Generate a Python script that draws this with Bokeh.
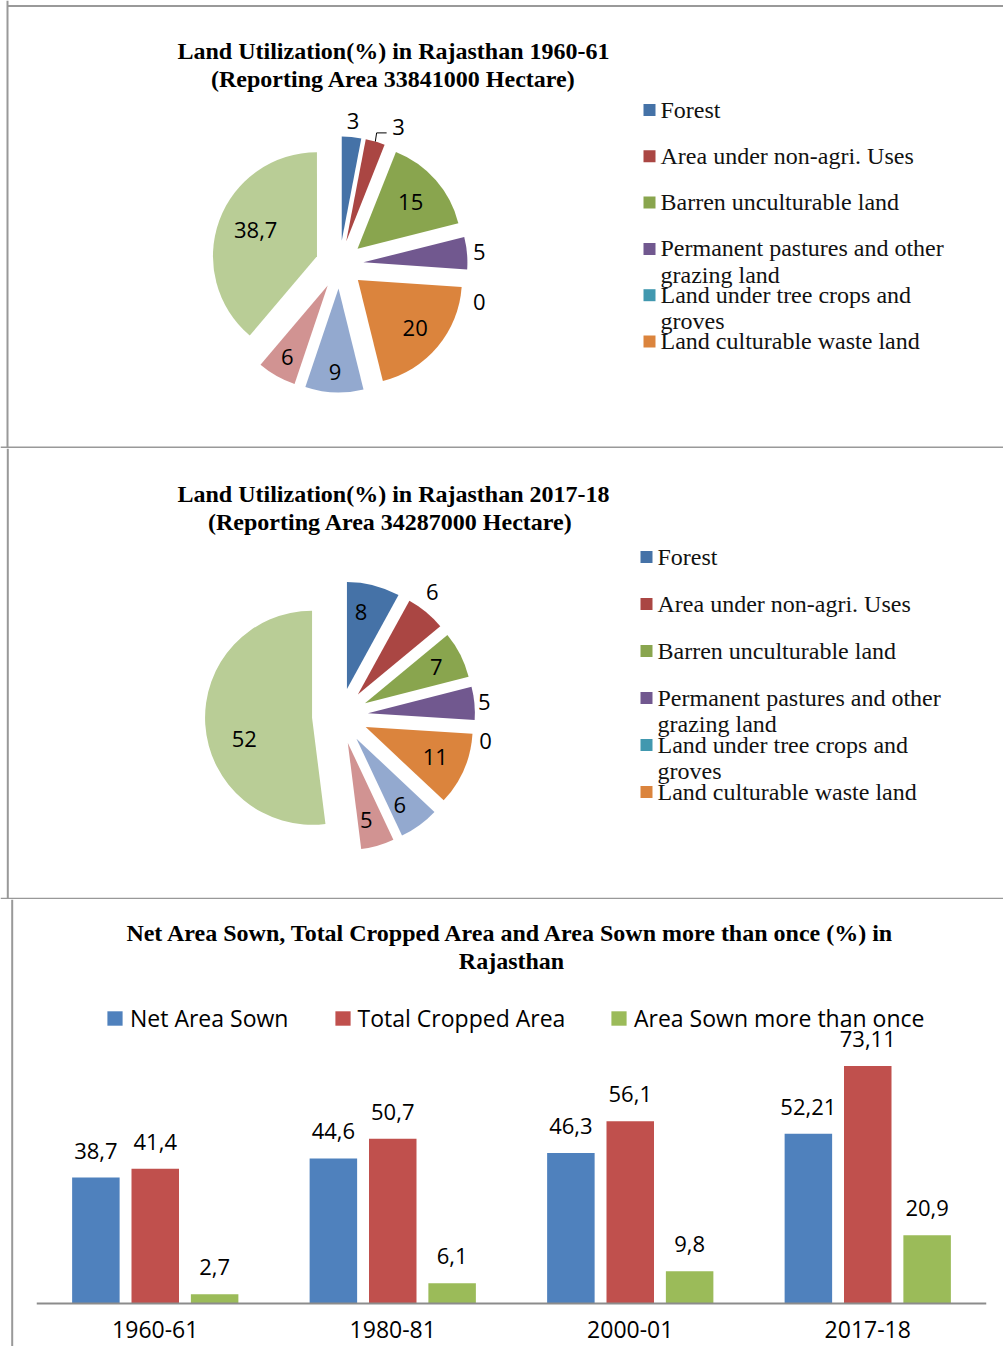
import textwrap
import numpy as np
from bokeh.plotting import figure
from bokeh.layouts import column, row
from bokeh.models import (ColumnDataSource, Range1d, FactorRange, CategoricalAxis,
                          Legend, LegendItem, LabelSet)
from bokeh.transform import dodge
from bokeh.core.properties import value
from bokeh.embed import file_html
from bokeh.resources import INLINE

# ------------------------------------------------------------------ data
land_classes = ["Forest", "Area under non-agri. Uses", "Barren unculturable land",
                "Permanent pastures and other grazing land",
                "Land under tree crops and groves", "Land culturable waste land",
                "Fallow land other than current fallows", "Current fallows",
                "Net area sown"]
share_1960 = [3, 3, 15, 5, 0, 20, 9, 6, 38.7]
share_2017 = [8, 6, 7, 5, 0, 11, 6, 5, 52]
title_1960 = ["Land Utilization(%) in Rajasthan 1960-61",
              "(Reporting Area 33841000 Hectare)"]
title_2017 = ["Land Utilization(%) in Rajasthan 2017-18",
              "(Reporting Area 34287000  Hectare)"]
legend_shown = 6

years = ["1960-61", "1980-81", "2000-01", "2017-18"]
net_area_sown = [38.7, 44.6, 46.3, 52.21]
total_cropped = [41.4, 50.7, 56.1, 73.11]
sown_more_once = [2.7, 6.1, 9.8, 20.9]
bar_series = ["Net Area Sown", "Total Cropped Area", "Area Sown more than once"]
bar_title = ["Net Area Sown, Total Cropped Area and Area Sown more than once (%) in",
             "Rajasthan"]

# ------------------------------------------------------------------ style
pie_colors = ["#4572A7", "#AA4643", "#89A54E", "#71588F", "#4198AF",
              "#DB843D", "#93A9CF", "#D19392", "#B9CD96"]
bar_colors = ["#4F81BD", "#C0504D", "#9BBB59"]
border_col = "#999999"
SERIF = value("Liberation Serif")
SANS = value("Open Sans")
W = 1003


def fmt(v):
    return f"{v:g}".replace(".", ",")


def pie_panel(H, shares, titles, cx, cy, r, d, lab_r, lab_nudge, leader,
              title_x, title_y, title_dy, sq_x, txt_x, leg_y, leg_dy, line_dy,
              left_x, top_y, bottom_y):
    p = figure(width=W, height=H, x_range=Range1d(0, W), y_range=Range1d(0, H),
               output_backend="svg", toolbar_location=None, min_border=0,
               x_axis_location=None, y_axis_location=None,
               outline_line_color=None)
    p.grid.visible = False

    vals = np.array(shares, dtype=float)
    frac = vals / vals.sum()
    cum = np.concatenate([[0.0], np.cumsum(frac)]) * 2 * np.pi
    t1, t2 = cum[:-1], cum[1:]
    tm = (t1 + t2) / 2
    X0, Y0 = cx, H - cy
    m = vals > 0
    src = ColumnDataSource(dict(
        x=(X0 + d * np.sin(tm))[m], y=(Y0 + d * np.cos(tm))[m],
        start=(np.pi / 2 - t2)[m], end=(np.pi / 2 - t1)[m],
        color=[c for c, k in zip(pie_colors, m) if k]))
    p.wedge(x="x", y="y", radius=r, start_angle="start", end_angle="end",
            direction="anticlock", fill_color="color", line_color=None, source=src)

    la = tm + np.radians(lab_nudge)
    lr = np.array(lab_r) * r
    lx = X0 + lr * np.sin(la)
    ly = Y0 + lr * np.cos(la)
    p.text(x=lx, y=ly, text=[fmt(v) for v in shares], text_font=SANS,
           text_font_size="22px", text_align="center", text_baseline="middle",
           text_color="black")
    for i, flag in enumerate(leader):
        if flag:
            ax = X0 + (d + r) * np.sin(tm[i])
            ay = Y0 + (d + r) * np.cos(tm[i])
            p.line([ax, lx[i] - 22, lx[i] - 12], [ay, ly[i] - 6, ly[i] - 6],
                   line_color="black", line_width=1)

    # title
    p.text(x=[title_x, title_x], y=[H - title_y, H - title_y - title_dy],
           text=titles, text_font=SERIF, text_font_style="bold",
           text_font_size="24px", text_align="center",
           text_baseline="middle", text_color="black")

    # legend (first entries only, as in the source chart)
    sq_y, tx, ty, tt = [], [], [], []
    y = leg_y
    for i, name in enumerate(land_classes[:legend_shown]):
        sq_y.append(H - (y + 0.5))
        for j, ln in enumerate(textwrap.wrap(name, 28)):
            tx.append(txt_x)
            ty.append(H - (y + j * line_dy))
            tt.append(ln)
        y += leg_dy
    p.rect(x=[sq_x] * legend_shown, y=sq_y, width=12, height=12,
           fill_color=pie_colors[:legend_shown], line_color=None)
    p.text(x=tx, y=ty, text=tt, text_font=SERIF, text_font_size="24px",
           text_align="left", text_baseline="middle", text_color="#111111")

    # panel borders
    p.segment(x0=[left_x], y0=[0], x1=[left_x], y1=[H],
              line_color=border_col, line_width=2)
    if top_y is not None:
        p.segment(x0=[left_x], y0=[H - top_y], x1=[W], y1=[H - top_y],
                  line_color=border_col, line_width=2)
    p.segment(x0=[0], y0=[H - bottom_y], x1=[W], y1=[H - bottom_y],
              line_color=border_col, line_width=2)
    return p


p1 = pie_panel(448, share_1960, title_1960, cx=339, cy=264, r=104, d=24,
               lab_r=[1.39, 1.44, 0.91, 1.35, 1.39, 0.95, 1.03, 1.02, 0.87],
               lab_nudge=[0, 7, 0, 0, 11, 0, 0, 0, 2],
               leader=[0, 1, 0, 0, 0, 0, 0, 0, 0],
               title_x=393, title_y=50.5, title_dy=27.5, sq_x=649, txt_x=660,
               leg_y=109, leg_dy=46.3, line_dy=26.6,
               left_x=7, top_y=5.5, bottom_y=447)
p2 = pie_panel(451, share_2017, title_2017, cx=339.5, cy=267.5, r=107, d=28,
               lab_r=[0.99, 1.445, 1.01, 1.355, 1.38, 0.97, 1.0, 1.0, 0.92],
               lab_nudge=[-3, -3, 0, 0, 6, 0, 2, 2, -10],
               leader=[0] * 9,
               title_x=393, title_y=45.5, title_dy=27.5, sq_x=646, txt_x=657,
               leg_y=108, leg_dy=47, line_dy=26.6,
               left_x=7.3, top_y=None, bottom_y=450.3)

# ------------------------------------------------------------------ bar chart
H3 = 447
px_per = 3.24
base_y = 403.5
left_w = 36


def y3(fig_y):
    return (base_y - fig_y) / px_per


fb = figure(width=left_w, height=H3, x_range=Range1d(0, left_w),
            y_range=Range1d(0, H3), output_backend="svg", toolbar_location=None,
            min_border=0, x_axis_location=None, y_axis_location=None,
            outline_line_color=None)
fb.grid.visible = False
fb.segment(x0=[11.7], y0=[0], x1=[11.7], y1=[H3], line_color=border_col,
           line_width=2)

p3 = figure(width=W - left_w, height=H3, x_range=FactorRange(*years),
            y_range=Range1d(y3(H3), y3(0)), output_backend="svg",
            toolbar_location=None, min_border_left=0, min_border_right=17,
            min_border_top=0, min_border_bottom=0, x_axis_location=None,
            y_axis_location=None, outline_line_color=None)
p3.grid.visible = False

src3 = ColumnDataSource(dict(
    year=years,
    s0=net_area_sown, s1=total_cropped, s2=sown_more_once,
    l0=[fmt(v) for v in net_area_sown], l1=[fmt(v) for v in total_cropped],
    l2=[fmt(v) for v in sown_more_once]))

offsets = [-0.25, 0.0, 0.25]
legend_x = [69, 296.6, 573]
for k in range(3):
    rr = p3.vbar(x=dodge("year", offsets[k], range=p3.x_range), top=f"s{k}",
                 width=0.2, source=src3, fill_color=bar_colors[k], line_color=None)
    p3.add_layout(LabelSet(x=dodge("year", offsets[k], range=p3.x_range),
                           y=f"s{k}", text=f"l{k}", source=src3, y_offset=19,
                           text_align="center", text_baseline="alphabetic",
                           text_font=SANS, text_font_size="22px",
                           text_color="black"))
    leg = Legend(items=[LegendItem(label=bar_series[k], renderers=[rr])],
                 location=(legend_x[k], 312), orientation="horizontal",
                 glyph_width=19, glyph_height=18, label_standoff=6, padding=0,
                 margin=0, spacing=0, border_line_color=None,
                 background_fill_alpha=0, label_text_font="Open Sans",
                 label_text_font_size="23px", label_height=18,
                 label_text_color="black")
    p3.add_layout(leg)

p3.text(x=[2.0, 2.0], y=[y3(932.5 - 899), y3(960.5 - 899)], text=bar_title,
        text_font=SERIF, text_font_style="bold", text_font_size="24px",
        text_align="center", text_baseline="middle", text_color="black")

xax = CategoricalAxis(fixed_location=0, axis_line_color="#8c8c8c",
                      axis_line_width=2, major_tick_line_color=None,
                      minor_tick_line_color=None, major_label_text_font="Open Sans",
                      major_label_text_font_size="23px", major_label_standoff=12,
                      major_label_text_color="black")
p3.add_layout(xax, "below")

layout = column(p1, p2, row(fb, p3))
open("out.html", "w").write(file_html(layout, INLINE))
